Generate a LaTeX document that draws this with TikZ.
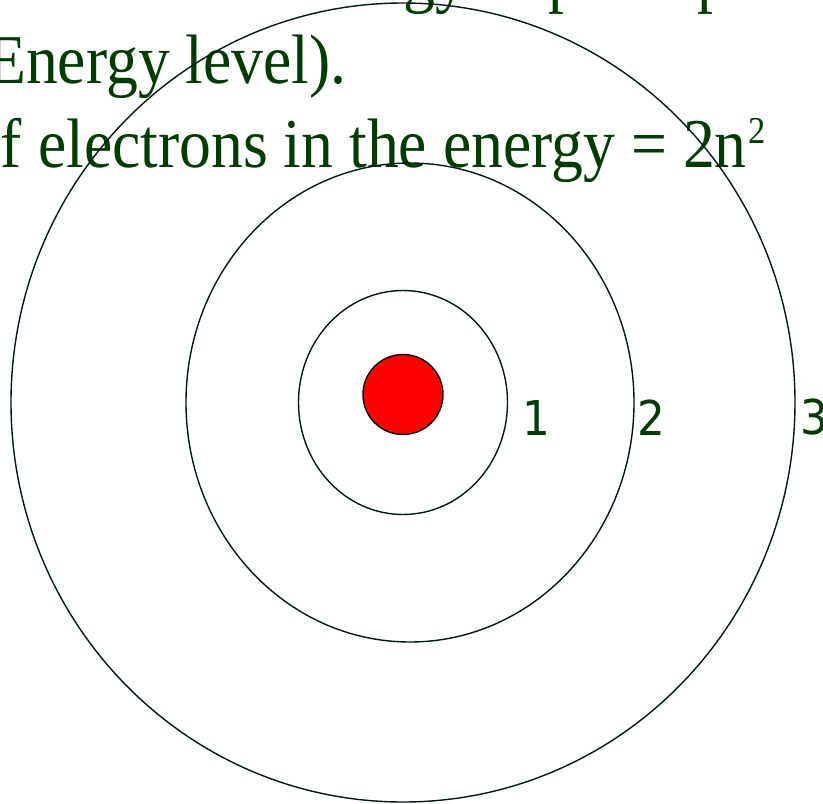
\documentclass[tikz,border=0pt]{standalone}
\usepackage{fontspec}
\setmainfont{Liberation Serif}
\newfontfamily\digitfont{DejaVu Sans}
\usetikzlibrary{positioning}
\definecolor{slidegreen}{RGB}{0,60,0}
\definecolor{orbitline}{RGB}{0,25,20}

\begin{document}
\begin{tikzpicture}[
    x=1pt, y=-1pt,
    orbit/.style={draw=orbitline, line width=1.4pt},
    slideline/.style={font=\fontsize{70}{70}\selectfont, text=slidegreen, inner sep=0pt, xscale=0.91},
    shellnum/.style={font=\digitfont\fontsize{48}{48}\selectfont, text=slidegreen, inner sep=0pt, xscale=0.91}
  ]
  \useasboundingbox (0,0) rectangle (823,804);
  \clip (0,0) rectangle (823,804);
  \node[slideline, anchor=base west] (line1) at (-616,-1)
    {Each orbit has a definite amount of energy in principal shells};
  \node[slideline, anchor=base east] (line2) at (347,83) {(Energy level).};
  \node[slideline, anchor=base east] (line3) at (766,167)
    {Maximum number of electrons in the energy = 2n\hspace{2pt}\raisebox{0.33em}{\fontsize{38}{38}\selectfont 2}};
  \coordinate (core) at (403,402.5);
  \draw[orbit] (core) ellipse [x radius=392, y radius=399.5];
  \draw[orbit] ([xshift=7pt]core) ellipse [x radius=224, y radius=239.5];
  \draw[orbit] (core) ellipse [x radius=104.5, y radius=112];
  \node[circle, draw=black, line width=1.4pt, fill=red, minimum size=80pt, inner sep=0pt] (nucleus) at (403,394.5) {};
  \node[shellnum] (n1) at (536.5,417.5) {1};
  \node[shellnum] (n2) at (651.5,417.5) {2};
  \node[shellnum] (n3) at (814,417.5) {3};
\end{tikzpicture}
\end{document}
